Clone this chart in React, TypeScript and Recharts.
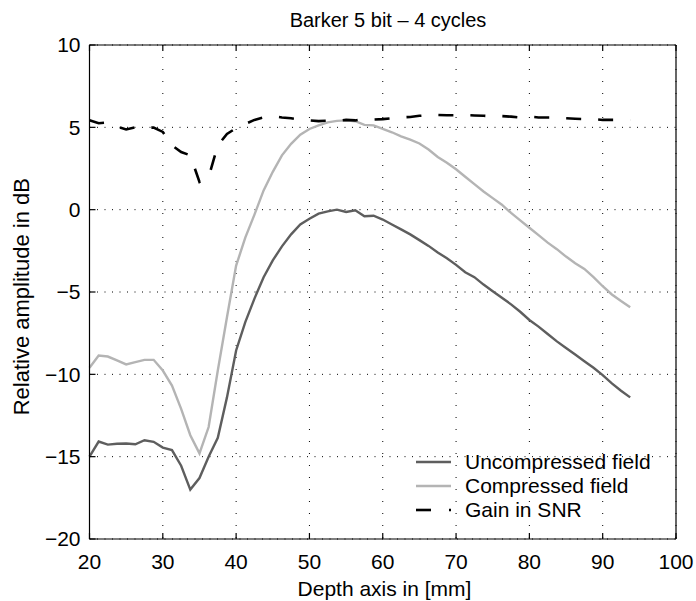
import React from 'react';
import { LineChart, Line, XAxis, YAxis, CartesianGrid, Legend } from 'recharts';

const depth = [
  20, 21.25, 22.5, 23.75, 25, 26.25, 27.5, 28.75, 30, 31.25,
  32.5, 33.75, 35, 36.25, 37.5, 38.75, 40, 41.25, 42.5, 43.75,
  45, 46.25, 47.5, 48.75, 50, 51.25, 52.5, 53.75, 55, 56.25,
  57.5, 58.75, 60, 61.25, 62.5, 63.75, 65, 66.25, 67.5, 68.75,
  70, 71.25, 72.5, 73.75, 75, 76.25, 77.5, 78.75, 80, 81.25,
  82.5, 83.75, 85, 86.25, 87.5, 88.75, 90, 91.25, 92.5, 93.75,
];

const uncompressed = [
  -15.0, -14.08, -14.27, -14.22, -14.2, -14.25, -14.0, -14.1, -14.45, -14.6,
  -15.55, -17.0, -16.3, -15.0, -13.85, -11.4, -8.55, -6.83, -5.4, -4.1,
  -3.08, -2.23, -1.5, -0.9, -0.55, -0.24, -0.1, 0.0, -0.14, -0.04,
  -0.4, -0.37, -0.6, -0.9, -1.2, -1.5, -1.85, -2.2, -2.6, -2.95,
  -3.35, -3.8, -4.1, -4.55, -4.95, -5.35, -5.75, -6.2, -6.7, -7.1,
  -7.55, -8.0, -8.4, -8.8, -9.2, -9.6, -10.05, -10.55, -11.0, -11.4,
];

const compressed = [
  -9.6, -8.86, -8.92, -9.15, -9.4, -9.26, -9.12, -9.12, -9.77, -10.68,
  -12.1, -13.7, -14.8, -13.2, -9.77, -6.53, -3.4, -1.7, -0.3, 1.17,
  2.3, 3.3, 4.0, 4.55, 4.9, 5.12, 5.3, 5.39, 5.42, 5.37,
  5.15, 5.12, 4.9, 4.7, 4.45, 4.25, 4.02, 3.65, 3.2, 2.85,
  2.45, 2.0, 1.55, 1.1, 0.7, 0.3, -0.2, -0.65, -1.1, -1.55,
  -2.0, -2.4, -2.85, -3.25, -3.6, -4.1, -4.65, -5.15, -5.55, -5.92,
];

const gainSNR = [
  5.43, 5.25, 5.3, 5.05, 4.87, 5.0, 4.95, 4.99, 4.72, 3.9,
  3.5, 3.3, 1.68, 1.98, 3.9, 4.6, 4.95, 5.2, 5.45, 5.6,
  5.67, 5.6, 5.55, 5.45, 5.42, 5.38, 5.4, 5.4, 5.45, 5.42,
  5.5, 5.47, 5.5, 5.55, 5.6, 5.63, 5.7, 5.73, 5.75, 5.73,
  5.73, 5.75, 5.72, 5.7, 5.67, 5.68, 5.65, 5.6, 5.65, 5.6,
  5.6, 5.6, 5.55, 5.52, 5.5, 5.5, 5.45, 5.45, 5.45, 5.45,
];

const xTicks = [20, 30, 40, 50, 60, 70, 80, 90, 100];
const yTicks = [-20, -15, -10, -5, 0, 5, 10];

const seriesNames = ['Uncompressed field', 'Compressed field', 'Gain in SNR'];

const data = depth.map((d, i) => ({
  depth: d,
  unc: uncompressed[i],
  comp: compressed[i],
  gain: gainSNR[i],
}));

const FONT = '"Liberation Sans", Arial, Helvetica, sans-serif';
const minus = (v: number) => String(v).replace('-', '\u2212');
const blank = () => '';

const UNC_COLOR = '#5e5e5e';
const COMP_COLOR = '#b4b4b4';
const GAIN_COLOR = '#000000';

const LegendContent = () => {
  const rows = [
    { name: seriesNames[0], color: UNC_COLOR, dash: false },
    { name: seriesNames[1], color: COMP_COLOR, dash: false },
    { name: seriesNames[2], color: GAIN_COLOR, dash: true },
  ];
  return (
    <div style={{ fontFamily: FONT, fontSize: 21, color: '#000' }}>
      {rows.map((r) => (
        <div key={r.name} style={{ display: 'flex', alignItems: 'center', height: 24.2 }}>
          <svg width={36} height={24} style={{ display: 'block' }}>
            {r.dash ? (
              <>
                <line x1={0} y1={12} x2={15} y2={12} stroke={r.color} strokeWidth={2.6} />
                <line x1={33} y1={12} x2={35} y2={12} stroke={r.color} strokeWidth={2.6} />
              </>
            ) : (
              <line x1={0} y1={12} x2={35} y2={12} stroke={r.color} strokeWidth={2.4} />
            )}
          </svg>
          <span style={{ marginLeft: 13, lineHeight: '24px', whiteSpace: 'nowrap' }}>{r.name}</span>
        </div>
      ))}
    </div>
  );
};

const AX = { stroke: '#000', strokeWidth: 1.2 };

export default function App() {
  const tickStyle = { fontFamily: FONT, fontSize: 21, fill: '#000' };
  return (
    <div style={{ position: 'absolute', left: 0, top: 0, width: 696, height: 601, background: '#fff' }}>
      <LineChart
        width={696}
        height={601}
        data={data}
        margin={{ top: 35, right: 10, bottom: 32, left: 29.5 }}
      >
        <CartesianGrid
          horizontal={false}
          stroke="#000"
          strokeWidth={1}
          strokeDasharray="1 11"
        />
        <CartesianGrid
          vertical={false}
          stroke="#000"
          strokeWidth={1}
          strokeDasharray="1 6.5"
        />
        <XAxis
          dataKey="depth"
          type="number"
          domain={[20, 100]}
          ticks={xTicks}
          interval={0}
          height={30}
          tickSize={-6}
          tickMargin={21}
          tick={tickStyle}
          axisLine={AX}
          tickLine={AX}
        />
        <XAxis
          xAxisId="top"
          orientation="top"
          dataKey="depth"
          type="number"
          domain={[20, 100]}
          ticks={xTicks}
          interval={0}
          height={10}
          tickSize={-6}
          tickFormatter={blank}
          axisLine={AX}
          tickLine={AX}
        />
        <YAxis
          type="number"
          domain={[-20, 10]}
          ticks={yTicks}
          interval={0}
          width={60}
          tickSize={-6}
          tickMargin={15}
          tick={tickStyle}
          tickFormatter={minus}
          axisLine={AX}
          tickLine={AX}
        />
        <YAxis
          yAxisId="right"
          orientation="right"
          type="number"
          domain={[-20, 10]}
          ticks={yTicks}
          interval={0}
          width={10}
          tickSize={-6}
          tickFormatter={blank}
          axisLine={AX}
          tickLine={AX}
        />
        <Line
          type="linear"
          dataKey="unc"
          name={seriesNames[0]}
          stroke={UNC_COLOR}
          strokeWidth={2.4}
          dot={false}
          activeDot={false}
          isAnimationActive={false}
        />
        <Line
          type="linear"
          dataKey="comp"
          name={seriesNames[1]}
          stroke={COMP_COLOR}
          strokeWidth={2.4}
          dot={false}
          activeDot={false}
          isAnimationActive={false}
        />
        <Line
          type="linear"
          dataKey="gain"
          name={seriesNames[2]}
          stroke={GAIN_COLOR}
          strokeWidth={2.6}
          strokeDasharray="15 17"
          dot={false}
          activeDot={false}
          isAnimationActive={false}
        />
        <Legend
          layout="vertical"
          align="center"
          verticalAlign="middle"
          content={<LegendContent />}
          wrapperStyle={{ left: 416, top: 450, width: 260, height: 75 }}
        />
      </LineChart>
      <svg
        width={696}
        height={601}
        style={{ position: 'absolute', left: 0, top: 0, pointerEvents: 'none' }}
      >
        <text x={388} y={27} textAnchor="middle" fontFamily={FONT} fontSize={20} fill="#000">
          Barker 5 bit – 4 cycles
        </text>
        <text x={384.5} y={596} textAnchor="middle" fontFamily={FONT} fontSize={21} fill="#000">
          Depth axis in [mm]
        </text>
        <text
          transform="translate(28.5,296.7) rotate(-90)"
          textAnchor="middle"
          fontFamily={FONT}
          fontSize={22}
          fill="#000"
        >
          Relative amplitude in dB
        </text>
      </svg>
    </div>
  );
}
